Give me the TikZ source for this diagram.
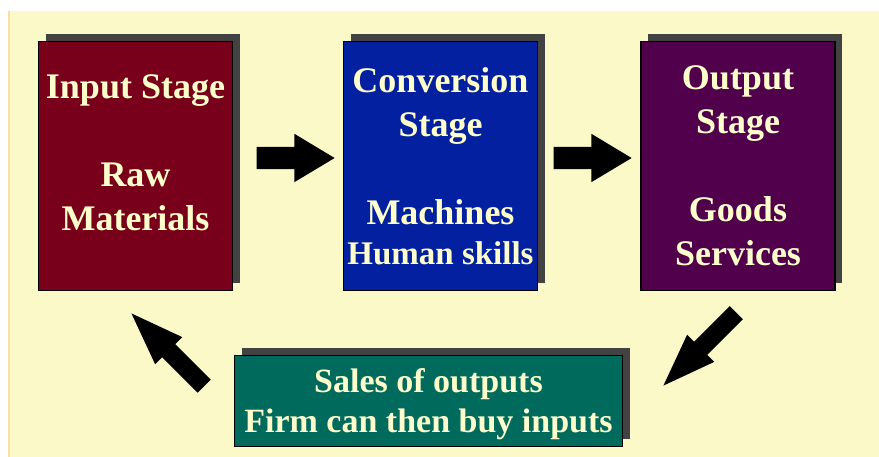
\documentclass[tikz,border=0pt]{standalone}
\usepackage{fontspec}
\setmainfont{Liberation Serif}
\usetikzlibrary{calc,positioning,shadows,shapes.arrows}

\definecolor{paper}{HTML}{FBF9C7}
\definecolor{paperedge}{HTML}{F6DFA0}
\definecolor{inputred}{HTML}{78001A}
\definecolor{convblue}{HTML}{0320A0}
\definecolor{outpurple}{HTML}{51004B}
\definecolor{salesteal}{HTML}{006A5C}
\definecolor{cream}{HTML}{FFFFCC}
\definecolor{shadowgray}{HTML}{424242}

\tikzset{
  stage/.style={draw=black, line width=1.5pt, minimum width=194pt, minimum height=249pt,
    inner sep=0pt, align=center, text=cream, font=\fontsize{36}{44}\selectfont\bfseries,
    drop shadow={shadow xshift=7pt, shadow yshift=7pt, opacity=1, fill=shadowgray}},
  bigarrow/.style={single arrow, fill=black, inner xsep=0pt, inner ysep=11pt, anchor=tip,
    minimum height=78pt, single arrow head extend=13pt, single arrow tip angle=62},
  slantarrow/.style={single arrow, fill=black, inner xsep=0pt, inner ysep=9pt, anchor=tip,
    minimum height=103pt, single arrow head extend=10pt, single arrow tip angle=40}
}

\begin{document}
\begin{tikzpicture}[x=1pt, y=1pt, node distance=305pt]
  % page and paper
  \fill[white] (0,0) rectangle (879,457);
  \fill[paper] (8,0) rectangle (879,446);
  \fill[paperedge] (8,0) rectangle (10,446);
  % the three stages
  \node[stage, fill=inputred, text depth=27pt] (input) at (135.5,291)
    {Input Stage\\[44pt]Raw\\Materials};
  \node[stage, fill=convblue, right of=input] (conv)
    {Conversion\\Stage\\[44pt]Machines\\[-4pt]{\fontsize{33}{40}\selectfont Human skills}};
  \node[stage, fill=outpurple, right of=conv, node distance=297.5pt] (output)
    {Output\\Stage\\[44pt]Goods\\Services};
  % feedback box
  \node[stage, fill=salesteal, minimum width=388pt, minimum height=91pt,
    font=\fontsize{34}{40}\selectfont\bfseries, text depth=0pt] (sales) at (428.5,56)
    {Sales of outputs\\Firm can then buy inputs};
  % block arrows, placed by their tips
  \node[bigarrow] (in2conv) at (335,299) {};
  \node[bigarrow] (conv2out) at (632,299) {};
  \node[slantarrow, rotate=225] (out2sales) at (663,71) {};
  \node[slantarrow, rotate=135] (sales2in) at (131,144) {};
\end{tikzpicture}
\end{document}
